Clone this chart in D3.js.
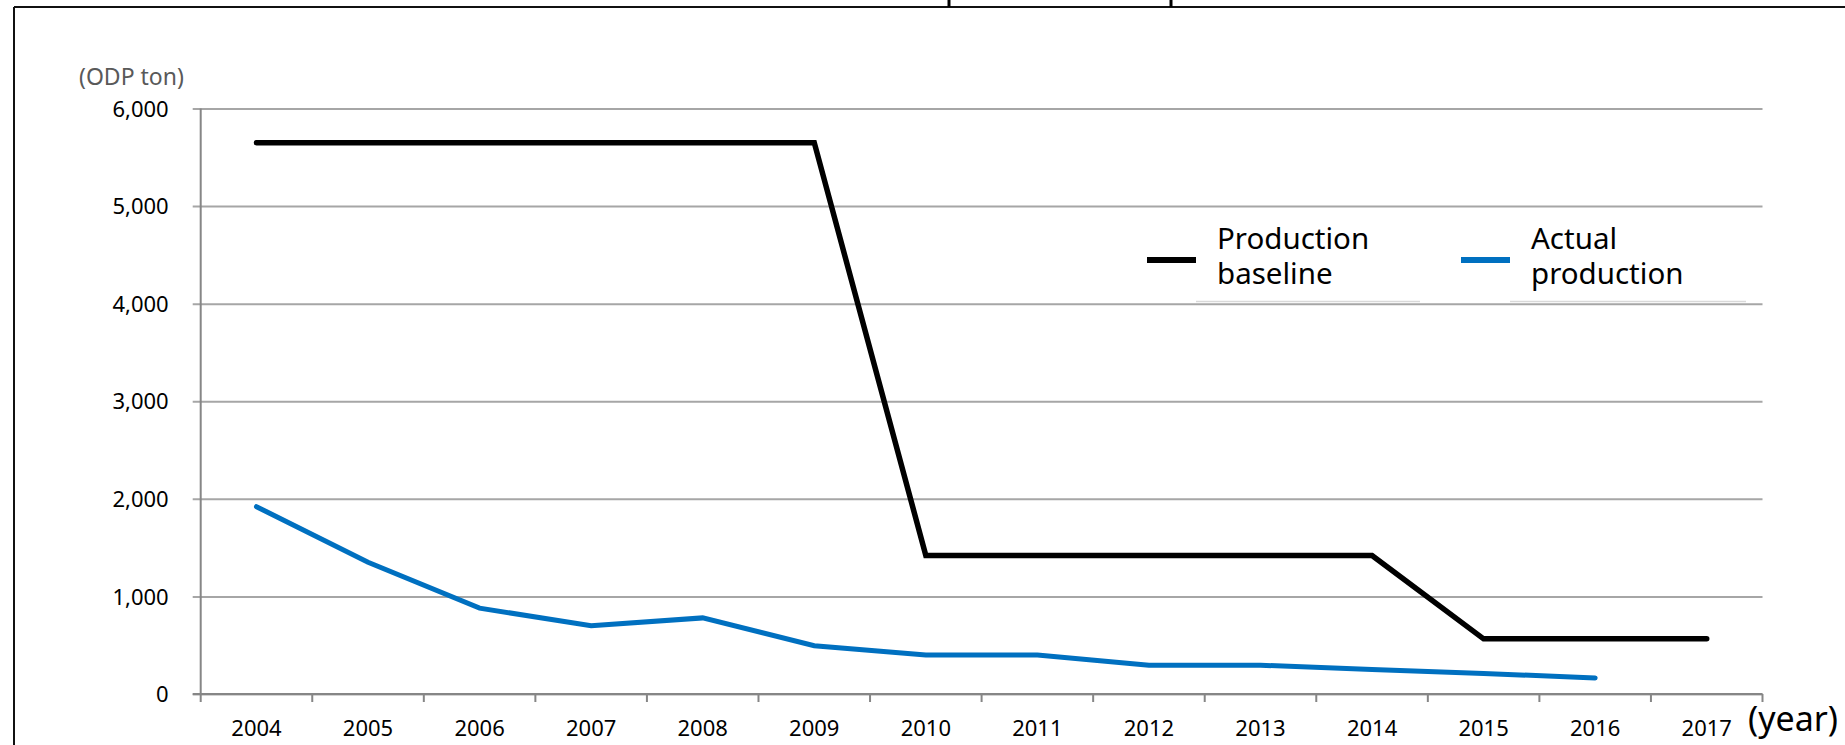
<!DOCTYPE html>
<html>
<head>
<meta charset="utf-8">
<script src="https://cdn.jsdelivr.net/npm/d3@7"></script>
<style>
	html, body { margin: 0; padding: 0; background: #fff; }
	svg { display: block; font-family: "Noto Sans", sans-serif; }
</style>
</head>
<body>
<div class="Chart"></div>
<script>
// chart values
var years = ["2004", "2005", "2006", "2007", "2008", "2009", "2010", "2011", "2012", "2013", "2014", "2015", "2016", "2017"];
var baseline = [5650, 5650, 5650, 5650, 5650, 5650, 1420, 1420, 1420, 1420, 1420, 565, 565, 565];
var actual = [1920, 1350, 880, 700, 780, 495, 400, 400, 295, 295, 250, 210, 165, null];
var yTicks = [0, 1000, 2000, 3000, 4000, 5000, 6000];
var seriesNames = [["Production", "baseline"], ["Actual", "production"]];
var seriesColors = ["#000000", "#0070c0"];

var width = 1845, height = 745;
var plotLeft = 200.7, plotRight = 1762.5, plotTop = 108.5, plotBottom = 694;

var svg = d3.select('.Chart').append('svg')
	.attr('width', width)
	.attr('height', height)
	.attr('viewBox', '0 0 ' + width + ' ' + height);

//outer frame (part of a larger figure)
svg.append('line').attr('x1', 14).attr('x2', width).attr('y1', 7).attr('y2', 7)
	.style('stroke', '#111').style('stroke-width', 2);
svg.append('line').attr('x1', 14).attr('x2', 14).attr('y1', 7).attr('y2', height)
	.style('stroke', '#111').style('stroke-width', 2);
[949, 1171].forEach(function(x) {
	svg.append('line').attr('x1', x).attr('x2', x).attr('y1', 0).attr('y2', 7)
		.style('stroke', '#000').style('stroke-width', 3);
});

var x = d3.scaleBand().domain(years).range([plotLeft, plotRight]).padding(0);
var y = d3.scaleLinear().domain([0, 6000]).range([plotBottom, plotTop]);
var cx = function(i) { return x(years[i]) + x.bandwidth() / 2; };

//horizontal gridlines with left ticks
var yAxis = d3.axisLeft(y)
	.tickValues(yTicks)
	.tickSize(-(plotRight - plotLeft))
	.tickFormat(d3.format(','));
var gy = svg.append('g')
	.attr('transform', 'translate(' + plotLeft + ',0)')
	.call(yAxis);
gy.select('.domain').remove();
gy.selectAll('.tick line')
	.attr('x1', -8)
	.style('stroke', '#a6a6a6')
	.style('stroke-width', 2);
gy.selectAll('.tick text')
	.attr('x', -32)
	.attr('dy', '0.35em')
	.style('font-family', '"Noto Sans", sans-serif')
	.style('font-size', '22px')
	.style('fill', '#000');

//vertical axis line
svg.append('line')
	.attr('x1', plotLeft).attr('x2', plotLeft)
	.attr('y1', plotTop).attr('y2', plotBottom)
	.style('stroke', '#868686').style('stroke-width', 2);

//category axis
var gx = svg.append('g')
	.attr('transform', 'translate(0,' + plotBottom + ')')
	.call(d3.axisBottom(x).tickSize(0));
gx.select('.domain').remove();
gx.selectAll('.tick text')
	.attr('y', 34)
	.attr('dy', '0.35em')
	.style('font-family', '"Noto Sans", sans-serif')
	.style('font-size', '22px')
	.style('fill', '#000');
svg.append('line')
	.attr('x1', plotLeft - 8).attr('x2', plotRight)
	.attr('y1', plotBottom).attr('y2', plotBottom)
	.style('stroke', '#868686').style('stroke-width', 2);
svg.selectAll('.xtick')
	.data(d3.range(years.length + 1))
	.enter().append('line')
	.attr('class', 'xtick')
	.attr('x1', function(i) { return plotLeft + i * x.bandwidth(); })
	.attr('x2', function(i) { return plotLeft + i * x.bandwidth(); })
	.attr('y1', plotBottom)
	.attr('y2', plotBottom + 8)
	.style('stroke', '#868686').style('stroke-width', 2);

//unit labels
svg.append('text')
	.attr('x', 79).attr('y', 85)
	.style('font-size', '23px')
	.style('fill', '#595959')
	.text('(ODP ton)');
svg.append('text')
	.attr('x', 1748).attr('y', 731)
	.style('font-size', '34px')
	.style('fill', '#000')
	.text('(year)');

//lines
var line = d3.line()
	.defined(function(d) { return d != null; })
	.x(function(d, i) { return cx(i); })
	.y(function(d) { return y(d); });

[baseline, actual].forEach(function(series, k) {
	svg.append('path')
		.datum(series)
		.attr('d', line)
		.style('fill', 'none')
		.style('stroke', seriesColors[k])
		.style('stroke-width', k === 0 ? 5.5 : 5)
		.style('stroke-linejoin', 'miter')
		.style('stroke-linecap', 'round');
});

//legend
var legendX = [1147, 1461];
seriesNames.forEach(function(names, k) {
	var lx = legendX[k];
	svg.append('line')
		.attr('x1', lx).attr('x2', lx + 49)
		.attr('y1', 260).attr('y2', 260)
		.style('stroke', seriesColors[k])
		.style('stroke-width', 6);
	svg.append('text')
		.attr('x', lx + 70).attr('y', 249)
		.style('font-size', '29.5px')
		.style('fill', '#000')
		.text(names[0]);
	svg.append('text')
		.attr('x', lx + 70).attr('y', 284)
		.style('font-size', '29.5px')
		.style('fill', '#000')
		.text(names[1]);
	svg.append('line')
		.attr('x1', lx + 49).attr('x2', k === 0 ? 1420 : 1746)
		.attr('y1', 301.5).attr('y2', 301.5)
		.style('stroke', '#d9d9d9')
		.style('stroke-width', 1.5);
});
</script>
</body>
</html>
